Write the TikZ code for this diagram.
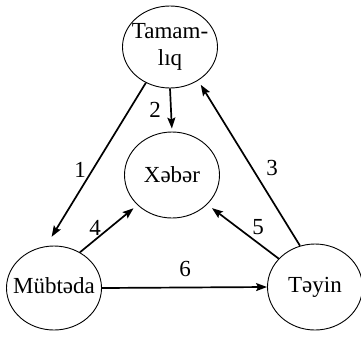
\documentclass[tikz,border=0pt]{standalone}
\usepackage{fontspec}
\setmainfont{Liberation Serif}
\usetikzlibrary{shapes.geometric,arrows.meta}
\newcommand{\zw}[1]{\makebox[0pt]{#1}}
\begin{document}
\begin{tikzpicture}[x=1pt,y=-1pt,
  blob/.style={ellipse,draw,line width=0.9pt,inner sep=0pt,minimum width=95pt,minimum height=84pt,font=\fontsize{23}{27}\selectfont,align=center},
  conn/.style={line width=1.7pt,-{Stealth[length=11pt,width=8pt,inset=2pt]}},
  lbl/.style={font=\fontsize{23}{27}\selectfont,inner sep=0pt}]
\useasboundingbox (0,0) rectangle (361,338);
\node[blob,minimum height=82pt] (tam) at (170,47) {\zw{Tamam-}\\\zw{lıq}};
\node[blob,minimum height=86pt] (xeb) at (172,175) {\zw{\raisebox{-2pt}{Xəbər}}};
\node[blob] (mub) at (54,288) {\zw{\raisebox{4pt}{Mübtəda}}};
\node[blob,minimum height=86pt] (tey) at (315,287) {\zw{Təyin}};
\draw[conn,shorten >=11pt] (tam.236) -- (mub.101);
\draw[conn,shorten >=3pt] (tam.south) -- (xeb.north);
\draw[conn,shorten >=5pt] (tey.110) -- (tam.310);
\draw[conn,shorten >=5pt] (mub.54) -- (xeb.221);
\draw[conn,shorten >=6pt] (tey.142) -- (xeb.320);
\draw[conn] (mub.east) -- (tey.west);
\node[lbl] (l1) at (80,170) {1};
\node[lbl] (l2) at (155,110) {2};
\node[lbl] (l3) at (272,168) {3};
\node[lbl] (l4) at (95,228) {4};
\node[lbl] (l5) at (258,227) {5};
\node[lbl] (l6) at (185,269) {6};
\end{tikzpicture}
\end{document}
